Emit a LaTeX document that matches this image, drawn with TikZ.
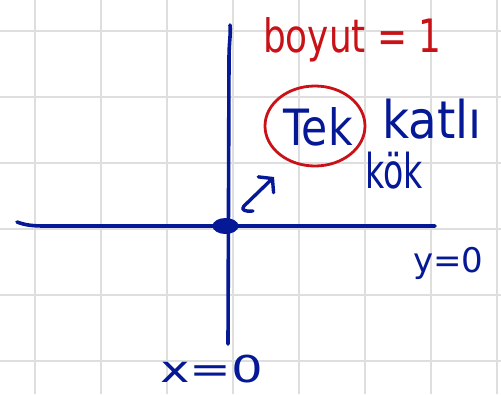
\documentclass[tikz,border=0pt]{standalone}
\usepackage{fontspec}
\setmainfont{DejaVu Sans}
\usetikzlibrary{arrows.meta,shapes.geometric}
\definecolor{ink}{RGB}{5,25,150}
\definecolor{redink}{RGB}{200,18,24}
\definecolor{gridc}{RGB}{222,222,222}
\tikzset{
  gridline/.style={gridc, line width=1.4pt},
  axis/.style={ink, line width=3.6pt, line cap=round, line join=round},
  hand/.style={inner sep=0pt, transform shape},
}
\begin{document}
\begin{tikzpicture}[x=1pt,y=-1pt]
\fill[white] (0,0) rectangle (501,394);
\useasboundingbox (0,0) rectangle (501,394);
% grid
\foreach \x in {35,101,167,233,299,365,431,497}
  \draw[gridline] (\x,0) -- (\x,394);
\foreach \y in {31,97,163,229,295,361}
  \draw[gridline] (0,\y) -- (501,\y);
% axes
\coordinate (ytop) at (230,25);
\coordinate (ybot) at (228,344);
\coordinate (xl) at (17,222);
\coordinate (xr) at (435,226);
\draw[axis] (ytop) .. controls (231,35) and (229,40) .. (229,60) -- (ybot);
\draw[axis] (xl) .. controls (25,225) and (32,226) .. (45,226) -- (xr);
% origin point
\node[ellipse, fill=ink, minimum width=26pt, minimum height=16pt, inner sep=0pt] (O) at (225.5,226) {};
% arrow
\coordinate (a0) at (253,211);
\coordinate (a1) at (274,177);
\draw[axis, line width=3.4pt, -{Straight Barb[length=9pt,width=22pt,line cap=round]}]
  (a0) .. controls (246,212) and (240,210) .. (244,206) -- (a1);
% texts
\node[hand, redink, anchor=base west, xscale=0.78, font=\fontsize{46}{50}\selectfont] (boyut) at (263,52) {boyut = 1};
\node[hand, ink, anchor=base west, xscale=0.85, font=\fontsize{50}{54}\selectfont] (tek) at (283,145) {Tek};
\node[hand, ink, anchor=base west, xscale=0.9, font=\fontsize{52}{56}\selectfont] (katli) at (382,138) {katlı};
\node[hand, ink, anchor=base west, xscale=0.69, font=\fontsize{48}{52}\selectfont] (kok) at (365,188) {kök};
\node[hand, ink, anchor=base west, font=\fontsize{34}{40}\selectfont] (y0) at (413,272) {y=0};
\node[hand, ink, anchor=base west, xscale=1.35, font=\fontsize{37}{42}\selectfont] (x0) at (160,382) {x=0};
% red circle
\node[draw=redink, line width=2.8pt, ellipse, minimum width=100pt, minimum height=80pt] (circ) at (315,126) {};
\end{tikzpicture}
\end{document}
